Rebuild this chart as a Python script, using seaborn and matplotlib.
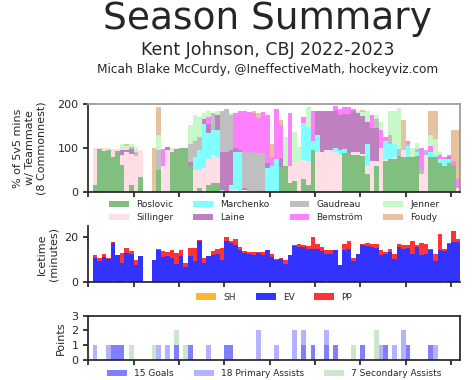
import numpy as np
import pandas as pd
import seaborn as sns
import matplotlib.pyplot as plt
from matplotlib.patches import Patch

# 82 game slots (index 0 = no game), share of 5v5 minutes with each teammate
players = ["Roslovic", "Sillinger", "Marchenko", "Laine",
           "Gaudreau", "Bemström", "Jenner", "Foudy"]
player_colors = ["#80bf80", "#ffdfe5", "#80ffff", "#bf80bf",
                 "#bfbfbf", "#ff80ff", "#c8f7c8", "#e6c29f"]

roslovic = [0, 15, 97, 93, 95, 80, 93, 62, 0, 15,
            0, 35, 0, 0, 0, 50, 0, 0, 92, 97,
            99, 100, 60, 0, 10, 0, 15, 20, 20, 0,
            0, 0, 0, 0, 0, 0, 0, 0, 0, 0,
            0, 0, 57, 60, 20, 25, 0, 30, 15, 95,
            0, 0, 0, 0, 0, 0, 88, 88, 85, 85,
            82, 40, 0, 60, 0, 70, 75, 75, 82, 80,
            80, 80, 82, 0, 0, 80, 80, 65, 60, 65,
            60, 0]
sillinger = [0, 85, 3, 6, 4, 17, 4, 22, 90, 72,
             82, 60, 0, 0, 0, 0, 58, 95, 8, 3,
             2, 0, 0, 50, 40, 55, 60, 65, 60, 0,
             0, 5, 5, 0, 5, 0, 2, 0, 0, 0,
             0, 0, 0, 0, 40, 40, 70, 43, 55, 0,
             90, 90, 95, 95, 90, 85, 0, 0, 5, 5,
             5, 20, 70, 10, 100, 5, 0, 5, 0, 15,
             0, 0, 0, 40, 85, 0, 0, 0, 0, 0,
             0, 10]
marchenko = [0, 0, 0, 0, 0, 0, 0, 0, 0, 0,
             0, 0, 0, 0, 0, 0, 0, 0, 0, 0,
             0, 0, 0, 30, 45, 100, 60, 55, 60, 5,
             0, 10, 85, 90, 0, 0, 0, 0, 0, 55,
             60, 76, 0, 0, 0, 0, 0, 83, 75, 20,
             40, 0, 0, 0, 10, 10, 10, 0, 0, 0,
             0, 50, 0, 0, 0, 40, 35, 30, 0, 0,
             25, 0, 10, 0, 0, 10, 5, 10, 15, 10,
             0, 0]
laine = [0, 0, 0, 0, 0, 0, 0, 12, 5, 10,
         0, 0, 0, 0, 0, 0, 0, 7, 0, 0,
         0, 0, 8, 0, 0, 10, 20, 0, 35, 85,
         90, 80, 10, 5, 5, 0, 0, 3, 0, 10,
         0, 0, 20, 0, 0, 0, 0, 0, 0, 0,
         55, 95, 90, 90, 85, 80, 80, 90, 95, 90,
         85, 50, 75, 75, 0, 0, 0, 0, 0, 0,
         0, 0, 0, 0, 0, 0, 0, 0, 0, 5,
         0, 0]
gaudreau = [0, 0, 0, 0, 0, 0, 0, 0, 0, 5,
            10, 0, 0, 0, 0, 45, 0, 0, 0, 0,
            0, 0, 40, 35, 30, 0, 0, 40, 0, 95,
            100, 80, 0, 0, 80, 88, 88, 85, 88, 0,
            0, 0, 0, 0, 0, 0, 0, 0, 0, 0,
            0, 0, 0, 0, 0, 0, 0, 0, 0, 0,
            0, 0, 0, 20, 0, 0, 20, 0, 15, 0,
            5, 0, 5, 10, 10, 0, 0, 0, 0, 0,
            0, 0]
bemstrom = [0, 0, 0, 0, 0, 0, 0, 0, 0, 0,
            0, 0, 0, 0, 0, 0, 40, 0, 0, 0,
            0, 0, 0, 0, 0, 0, 15, 0, 0, 0,
            0, 0, 80, 90, 95, 95, 90, 80, 95, 110,
            20, 114, 75, 0, 120, 0, 0, 15, 0, 70,
            0, 0, 0, 0, 10, 15, 15, 15, 5, 0,
            0, 0, 30, 0, 40, 10, 0, 0, 0, 0,
            5, 0, 0, 50, 0, 15, 0, 10, 5, 5,
            10, 20]
jenner = [0, 0, 0, 0, 0, 0, 0, 14, 10, 8,
          10, 0, 0, 0, 0, 34, 0, 0, 0, 0,
          0, 0, 44, 60, 45, 15, 15, 0, 10, 0,
          0, 5, 0, 0, 0, 0, 0, 0, 0, 0,
          0, 0, 0, 65, 0, 72, 33, 0, 49, 0,
          0, 0, 0, 0, 0, 0, 0, 0, 0, 5,
          10, 25, 0, 10, 20, 0, 55, 75, 95, 0,
          0, 20, 15, 0, 0, 25, 35, 5, 0, 0,
          0, 0]
foudy = [0, 0, 0, 0, 0, 0, 0, 0, 3, 0,
         0, 0, 0, 0, 100, 65, 0, 0, 0, 0,
         0, 0, 0, 0, 0, 0, 0, 0, 0, 0,
         0, 0, 0, 0, 0, 0, 5, 12, 0, 0,
         30, 0, 12, 0, 0, 0, 0, 0, 0, 0,
         0, 0, 0, 0, 0, 0, 0, 0, 0, 0,
         5, 0, 0, 0, 0, 0, 0, 0, 0, 68,
         0, 0, 0, 0, 0, 55, 65, 0, 0, 0,
         70, 110]

# icetime per game (minutes)
strengths = ["SH", "EV", "PP"]
strength_colors = ["#ffb733", "#3333ff", "#ff3333"]
sh_toi = [0, 0, 0, 0, 0, 0.4, 0, 0, 0.4, 0,
          0, 0, 0, 0, 0, 0, 0, 0, 0, 0,
          0, 0, 0, 0, 0, 0, 0, 0, 0, 0,
          0, 0, 0, 0, 0, 0, 0, 0, 0, 0,
          0, 0, 0, 0, 0, 0, 0, 0, 0, 0,
          0, 0, 0.4, 0, 0, 0, 0, 0, 0, 0,
          0, 0, 0, 0, 0, 0, 0, 0, 0, 0,
          0, 0, 0, 0, 0, 0, 0, 0, 0.4, 0,
          0, 0]
ev_toi = [0, 10.5, 9.5, 11.2, 10.2, 17.0, 12.0, 8.6, 12.7, 12.7,
          7.6, 11.7, 0, 0, 9.8, 14.2, 11.2, 11.7, 10.8, 8.0,
          11.7, 6.9, 11.7, 9.3, 18.5, 8.6, 11.5, 12.0, 12.7, 9.8,
          18.5, 17.4, 16.4, 14.2, 13.1, 12.7, 12.0, 13.1, 12.0, 14.2,
          11.2, 9.8, 10.1, 8.0, 12.0, 15.9, 15.6, 15.6, 14.6, 14.9,
          14.9, 13.9, 12.0, 12.7, 14.2, 7.6, 14.2, 14.9, 9.5, 12.3,
          16.4, 15.9, 15.6, 15.2, 12.0, 12.3, 13.4, 10.2, 15.6, 14.9,
          15.3, 12.7, 15.6, 12.0, 12.7, 14.2, 9.3, 14.5, 13.4, 17.0,
          17.8, 17.8]
pp_toi = [0, 1.5, 1.3, 1.1, 0.6, 0.5, 0, 4.4, 2.0, 1.0,
          2.2, 0, 0, 0, 0, 0.7, 2.5, 1.7, 3.7, 5.0,
          2.5, 1.4, 3.6, 5.9, 0.3, 1.9, 0, 1.9, 1.9, 5.5,
          1.8, 1.1, 2.9, 1.4, 0.8, 0.7, 1.4, 0.3, 1.4, 0.3,
          1.1, 0.3, 0.4, 1.8, 0, 0.7, 1.2, 1.0, 1.3, 5.1,
          2.2, 1.7, 1.7, 1.5, 0, 0, 2.9, 3.6, 1.0, 0,
          0.4, 1.6, 1.2, 1.6, 2.2, 1.1, 1.5, 2.1, 1.2, 1.5,
          1.3, 5.8, 1.0, 5.5, 4.4, 0.4, 3.4, 7.0, 1.1, 0.5,
          5.1, 1.5]

# points per game
point_kinds = ["15 Goals", "18 Primary Assists", "7 Secondary Assists"]
point_colors = ["#8080ff", "#b3b3ff", "#cce6cc"]
goals = [0, 0, 0, 0, 0, 1, 1, 1, 0, 0,
         0, 0, 0, 0, 0, 0, 0, 0, 0, 1,
         0, 0, 1, 0, 0, 0, 0, 0, 0, 0,
         1, 1, 0, 0, 0, 0, 0, 0, 0, 0,
         0, 0, 0, 0, 0, 0, 0, 1, 0, 1,
         0, 0, 1, 0, 1, 0, 0, 0, 0, 0,
         1, 0, 0, 0, 0, 1, 0, 0, 0, 0,
         1, 0, 0, 0, 0, 1, 0, 0, 0, 0,
         0, 0]
primary = [0, 1, 0, 0, 1, 0, 0, 0, 0, 0,
           0, 0, 0, 0, 0, 1, 0, 1, 0, 0,
           0, 0, 0, 0, 0, 0, 1, 0, 0, 0,
           0, 0, 0, 0, 0, 0, 0, 2, 0, 0,
           0, 1, 0, 0, 0, 2, 0, 1, 0, 0,
           0, 0, 1, 0, 0, 0, 0, 0, 0, 0,
           0, 0, 0, 0, 1, 0, 0, 1, 0, 2,
           0, 0, 0, 0, 0, 0, 1, 0, 0, 0,
           0, 0]
secondary = [0, 0, 0, 0, 0, 0, 0, 0, 0, 1,
             0, 0, 0, 0, 1, 0, 0, 0, 0, 1,
             0, 1, 0, 0, 0, 0, 0, 0, 0, 0,
             0, 0, 0, 0, 0, 0, 0, 0, 0, 0,
             0, 0, 0, 0, 0, 0, 0, 0, 0, 0,
             0, 0, 0, 0, 0, 0, 0, 0, 1, 0,
             0, 0, 0, 2, 0, 0, 0, 0, 0, 0,
             0, 0, 0, 0, 0, 0, 0, 0, 0, 0,
             0, 0]

n_games = len(roslovic)
games = np.arange(n_games)


def long_frame(names, series):
    return pd.concat([pd.DataFrame({"game": games, "value": vals, "kind": name})
                      for name, vals in zip(names, series)], ignore_index=True)


def stacked_panel(ax, df, order, colors, ncol, legend_y):
    # seaborn stacks the first hue level on top, so feed the order reversed
    sns.histplot(data=df, x="game", weights="value", hue="kind",
                 hue_order=order[::-1], palette=colors[::-1],
                 multiple="stack", binwidth=1, binrange=(0, n_games),
                 linewidth=0, alpha=1, ax=ax)
    if ax.get_legend() is not None:
        ax.get_legend().remove()
    handles = [Patch(facecolor=c, edgecolor="none") for c in colors]
    ax.legend(handles, order, loc="center", bbox_to_anchor=(0.5, legend_y),
              ncol=ncol, frameon=False, fontsize=6.5, handlelength=2.2,
              handletextpad=0.8, columnspacing=2.2)
    ax.set_xlim(0, n_games)
    ax.set_xticks(np.arange(0, 81, 10))
    ax.set_xticklabels([])
    ax.set_xlabel("")
    ax.tick_params(labelsize=8, length=3.5)


sns.set_theme(style="ticks")
plt.rcParams["font.family"] = ["DejaVu Sans"]

fig = plt.figure(figsize=(4.74, 3.8), dpi=100)
ax1 = fig.add_axes([0.186, 0.495, 0.785, 0.231])
ax2 = fig.add_axes([0.186, 0.258, 0.785, 0.147])
ax3 = fig.add_axes([0.186, 0.053, 0.785, 0.116])

lineup = long_frame(players, [roslovic, sillinger, marchenko, laine,
                              gaudreau, bemstrom, jenner, foudy])
stacked_panel(ax1, lineup, players, player_colors, 4, -0.22)
ax1.set_ylim(0, 200)
ax1.set_yticks([0, 100, 200])
ax1.set_ylabel("% of 5v5 mins\nw/ Teammate\n(8 Commonnest)", fontsize=8, labelpad=8)
for side in ["top", "right"]:
    ax1.spines[side].set_color("#999999")

icetime = long_frame(strengths, [sh_toi, ev_toi, pp_toi])
stacked_panel(ax2, icetime, strengths, strength_colors, 3, -0.27)
ax2.set_ylim(0, 25)
ax2.set_yticks([0, 20])
ax2.set_ylabel("Icetime\n(minutes)", fontsize=8)
sns.despine(ax=ax2)

points = long_frame(point_kinds, [goals, primary, secondary])
stacked_panel(ax3, points, point_kinds, point_colors, 3, -0.32)
ax3.set_ylim(0, 3)
ax3.set_yticks([0, 1, 2, 3])
ax3.set_ylabel("Points", fontsize=8)

fig.text(0.565, 0.95, "Season Summary", fontsize=27, ha="center", va="center")
fig.text(0.565, 0.868, "Kent Johnson, CBJ 2022-2023", fontsize=12.5,
         ha="center", va="center")
fig.text(0.565, 0.817, "Micah Blake McCurdy, @IneffectiveMath, hockeyviz.com",
         fontsize=8.7, ha="center", va="center")

fig.savefig("out.png", dpi=100)
